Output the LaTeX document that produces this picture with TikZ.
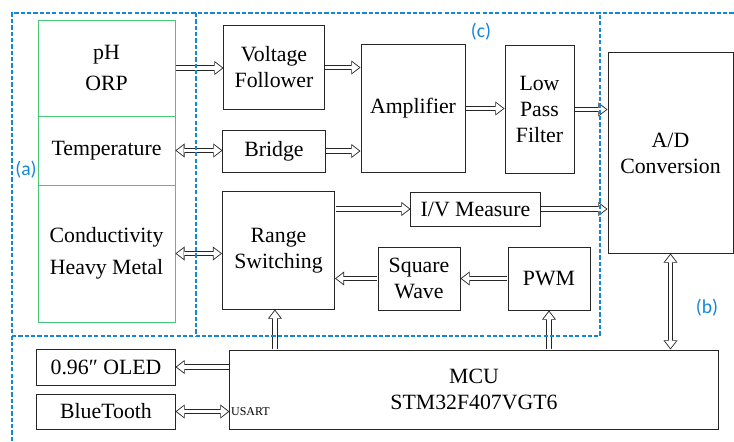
\documentclass[tikz,border=0pt]{standalone}
\usepackage{fontspec}
\setmainfont{Liberation Serif}
\newfontfamily\labelfont{Carlito}
\usepackage{xcolor}
\usetikzlibrary{positioning,arrows.meta,calc}
\definecolor{dashblue}{RGB}{20,135,215}
\definecolor{sensgreen}{RGB}{70,200,120}

\begin{document}
\begin{tikzpicture}[
    x=0.025cm, y=-0.025cm,
    font=\fontsize{15.5}{18.5}\selectfont,
    blk/.style={
        draw=black!85,
        line width=0.7pt,
        align=center,
        inner sep=0pt
    },
    sensor/.style={
        blk,
        draw=sensgreen,
        line width=0.6pt,
        font=\fontsize{15.5}{22.5}\selectfont,
        minimum width=3.425cm
    },
    dbl/.style={
        draw=black!85,
        line width=4pt,
        shorten <=0.4pt,
        -{Triangle[length=6.5pt,width=10pt,line width=0pt]},
        postaction={draw=white, line width=2.7pt, shorten >=1pt,
            -{Triangle[length=4.9pt,width=7.5pt,line width=0pt]}}
    },
    dblboth/.style={
        draw=black!85,
        line width=4pt,
        {Triangle[length=6.5pt,width=10pt,line width=0pt]}-{Triangle[length=6.5pt,width=10pt,line width=0pt]},
        postaction={draw=white, line width=2.7pt, shorten >=1pt, shorten <=1pt,
            {Triangle[length=4.9pt,width=7.5pt,line width=0pt]}-{Triangle[length=4.9pt,width=7.5pt,line width=0pt]}}
    },
    region/.style={
        draw=dashblue,
        line width=1pt,
        dash pattern=on 3pt off 1.5pt
    },
    tag/.style={
        text=dashblue,
        font=\labelfont\fontsize{14}{16}\selectfont
    }
]

\useasboundingbox (0,0) rectangle (734,441);

% Sensors
\node[sensor, minimum height=2.4cm] (ph) at (106.5,68) {pH\\ORP};
\node[sensor, minimum height=1.725cm] (temp) at (106.5,150.5) {Temperature};
\node[sensor, minimum height=3.425cm] (cond) at (106.5,253.5) {Conductivity\\Heavy Metal};

% Signal conditioning
\node[blk, minimum width=2.5cm, minimum height=2.075cm] (vf) at (274,67.5) {Voltage\\Follower};
\node[blk, minimum width=2.55cm, minimum height=1.05cm] (bridge) at (274,151) {Bridge};
\node[blk, minimum width=2.6cm, minimum height=3.175cm] (amp) at (413,108.5) {Amplifier};
\node[blk, minimum width=1.725cm, minimum height=3.175cm] (lpf) at (539.5,109.5) {Low\\Pass\\Filter};
\node[blk, minimum width=2.8cm, minimum height=2.925cm] (range) at (278.5,250.5) {Range\\Switching};
\node[blk, minimum width=3.225cm, minimum height=0.85cm] (iv) at (475.5,209) {I/V Measure};
\node[blk, minimum width=2.05cm, minimum height=1.575cm] (sq) at (419,278.5) {Square\\Wave};
\node[blk, minimum width=2.05cm, minimum height=1.575cm] (pwm) at (549,278.5) {PWM};

% Converter and controller
\node[blk, minimum width=3.125cm, minimum height=5cm] (adc) at (670.5,153) {A/D\\Conversion};
\node[blk, minimum width=12.2cm, minimum height=1.975cm] (mcu) at (474,389.5) {MCU\\STM32F407VGT6};
\node[blk, minimum width=3.45cm, minimum height=0.9cm] (oled) at (106,367) {0.96″ OLED};
\node[blk, minimum width=3.45cm, minimum height=0.875cm] (bt) at (106,411.5) {BlueTooth};
\node[anchor=west, inner sep=1pt, font=\fontsize{8.5}{10}\selectfont] (usart) at (mcu.west |- bt.east) {USART};

% Arrows
\draw[dbl] (ph.east) -- (ph.east -| vf.west);
\draw[dbl] (vf.east) -- (vf.east -| amp.west);
\draw[dblboth] (temp.east) -- (temp.east -| bridge.west);
\draw[dbl] (bridge.east) -- (bridge.east -| amp.west);
\draw[dbl] (amp.east) -- (amp.east -| lpf.west);
\draw[dbl] (lpf.east) -- (lpf.east -| adc.west);
\draw[dblboth] (cond.east) -- (cond.east -| range.west);
\draw[dbl] (iv.west -| range.east) -- (iv.west);
\draw[dbl] (iv.east) -- (iv.east -| adc.west);
\draw[dbl] (pwm.west) -- (sq.east);
\draw[dbl] (sq.west) -- (sq.west -| range.east);
\draw[dbl] ([xshift=-0.09cm]range.south |- mcu.north) -- ([xshift=-0.09cm]range.south);
\draw[dbl] (pwm.south |- mcu.north) -- (pwm.south);
\draw[dblboth] (adc.south) -- (adc.south |- mcu.north);
\draw[dbl] (oled.east -| mcu.west) -- (oled.east);
\draw[dblboth] (bt.east) -- (bt.east -| mcu.west);

% Regions
\draw[region] (12,441) -- (12,13) -- (734,13);
\draw[region] (12,336) -- (600,336) -- (600,13);
\draw[region] (196,13) -- (196,336);
\node[tag] (taga) at (26,170) {(a)};
\node[tag] (tagc) at (481,32) {(c)};
\node[tag] (tagb) at (707,308) {(b)};

\end{tikzpicture}
\end{document}
